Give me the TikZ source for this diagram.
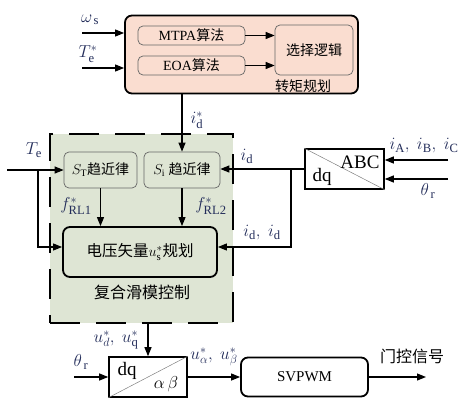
\documentclass[tikz,border=0pt]{standalone}
\usepackage{fontspec}
\setmainfont{Liberation Serif}
\newfontfamily\cjk{Noto Sans CJK SC}
\usetikzlibrary{arrows.meta,calc}
\definecolor{planbg}{RGB}{250,221,208}
\definecolor{smcbg}{RGB}{222,229,212}
\definecolor{varcol}{RGB}{35,45,90}
\newcommand{\zh}[1]{{\cjk #1}}

\begin{document}
\begin{tikzpicture}[x=1pt,y=-1pt,font=\fontsize{14}{16}\selectfont,
  >={Triangle[length=9pt,width=7pt]},
  conn/.style={->,line width=1.1pt},
  outerblk/.style={draw,line width=1.8pt,rounded corners=7pt},
  innerblk/.style={draw=black!60,line width=0.7pt,rounded corners=5pt,inner sep=0pt},
  xfmblk/.style={draw,line width=1.6pt,inner sep=0pt,minimum width=79pt,minimum height=40pt},
  var/.style={text=varcol,inner sep=1pt,font=\fontsize{18}{20}\selectfont}]
\useasboundingbox (0,0) rectangle (470,404);
% --- torque planning ---
\node[outerblk,fill=planbg,minimum width=233pt,minimum height=78pt] (plan) at (241.5,54.5) {};
\node[innerblk,minimum width=107pt,minimum height=19pt] (mtpa) at (191.5,35.5) {MTPA\zh{算法}};
\node[innerblk,minimum width=107pt,minimum height=19pt] (eoa) at (191.5,65.5) {EOA\zh{算法}};
\node[innerblk,minimum width=78pt,minimum height=50pt] (sel) at (314,50) {\zh{选择逻辑}};
\node (plantxt) at (303,86) {\zh{转矩规划}};
\draw[conn] (mtpa.east) -- (mtpa.east -| sel.west);
\draw[conn] (eoa.east) -- (eoa.east -| sel.west);
\coordinate (win) at (82,33);
\coordinate (tin) at (82,68);
\draw[conn] (win) -- (win -| plan.west);
\draw[conn] (tin) -- (tin -| plan.west);
\node[var] at (90,20) {$\omega_{\,\mathrm{s}}$};
\node[var] at (88,54) {$T^*_{\mathrm{e}}$};
% --- sliding mode control ---
\node[draw,dash pattern=on 30pt off 16pt,line width=1.8pt,fill=smcbg,
      minimum width=183pt,minimum height=189pt] (smc) at (141.5,228.5) {};
\node[innerblk,minimum width=73pt,minimum height=36pt] (st) at (100.5,170) {$S_{\mathrm{T}}$\zh{趋近律}};
\node[innerblk,minimum width=76pt,minimum height=36pt] (si) at (182,170) {$S_{\mathrm{i}}$ \zh{趋近律}};
\node[outerblk,minimum width=154pt,minimum height=50pt,font=\fontsize{15.5}{17}\selectfont] (uplan) at (140,252)
  {\zh{电压矢量}$u^*_{\mathrm{s}}$\zh{规划}};
\node[font=\fontsize{16}{18}\selectfont] (smctxt) at (142,292) {\zh{复合滑模控制}};
\draw[conn] (si.north |- plan.south) -- (si.north);
\node[var] at (197,120) {$i^*_{\mathrm{d}}$};
\draw[conn] (st.south) -- (st.south |- uplan.north);
\draw[conn] (si.south) -- (si.south |- uplan.north);
\node[var] at (76,206) {$f^*_{\mathrm{RL1}}$};
\node[var] at (211,206) {$f^*_{\mathrm{RL2}}$};
\coordinate (tein) at (7,170);
\coordinate (tebr) at (38,170);
\draw[conn] (tein) -- (tein -| st.west);
\draw[conn] (tebr) |- ([yshift=5pt]uplan.west);
\node[var] at (34,150) {$T_{\mathrm{e}}$};
% --- ABC/dq ---
\node[xfmblk] (clarke) at (344.5,169) {};
\draw[gray,line width=0.5pt] (clarke.north west) -- (clarke.south east);
\node[font=\fontsize{19}{21}\selectfont,inner sep=0pt] at (360,162) {ABC};
\node[font=\fontsize{19}{21}\selectfont,inner sep=0pt] at (322,177) {dq};
\coordinate (iabc) at (448,160);
\coordinate (thin) at (448,179);
\draw[conn] (iabc) -- (iabc -| clarke.east);
\draw[conn] (thin) -- (thin -| clarke.east);
\node[var] at (424,146) {$i_{\mathrm{A}},\ i_{\mathrm{B}},\ i_{\mathrm{C}}$};
\node[var] at (428,191) {$\theta_{\,\mathrm{r}}$};
\draw[conn] (clarke.west) -- (clarke.west -| si.east);
\coordinate (idbr) at (291,169);
\draw[conn] (idbr) |- ([yshift=5pt]uplan.east);
\node[var] at (247,156) {$i_{\mathrm{d}}$};
\node[var] at (262,233) {$i_{\mathrm{d}},\ i_{\mathrm{d}}$};
% --- dq/alpha beta and SVPWM ---
\node[xfmblk,minimum width=78pt] (ipark) at (148,377) {};
\draw[gray,line width=0.5pt] (ipark.south west) -- (ipark.north east);
\node[font=\fontsize{19}{21}\selectfont,inner sep=0pt] at (127,371) {dq};
\node[font=\fontsize{17}{19}\selectfont,inner sep=0pt] at (166,384) {$\alpha\,\beta$};
\draw[conn] (ipark.north |- smc.south) -- (ipark.north);
\node[var] at (116,340) {$u^*_{d},\ u^*_{\mathrm{q}}$};
\coordinate (thr) at (74,377);
\draw[conn] (thr) -- (ipark.west);
\node[var] at (81,362) {$\theta_{\,\mathrm{r}}$};
\node[outerblk,minimum width=127pt,minimum height=39pt,font=\fontsize{15}{17}\selectfont] (svpwm) at (304.5,377) {SVPWM};
\draw[conn] (ipark.east) -- (svpwm.west);
\node[var] at (214,357) {$u^*_{\alpha},\ u^*_{\beta}$};
\coordinate (gout) at (426,377);
\draw[conn] (svpwm.east) -- (gout);
\node[font=\fontsize{16}{18}\selectfont] at (412,356) {\zh{门控信号}};
\end{tikzpicture}
\end{document}
